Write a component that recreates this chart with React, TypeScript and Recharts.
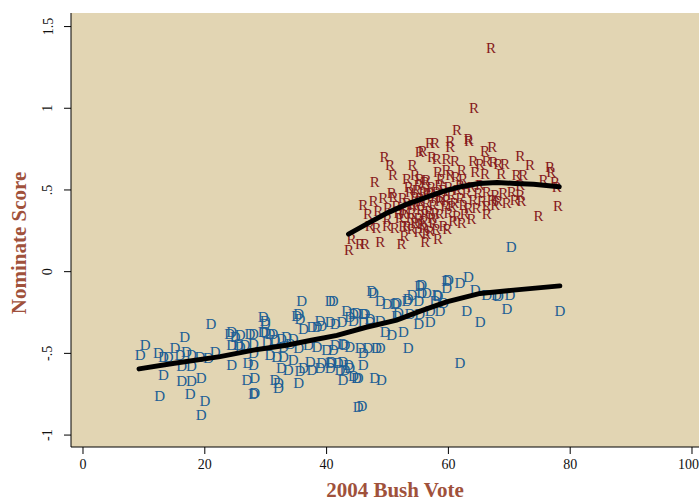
import React from "react";
import { ScatterChart, Scatter, XAxis, YAxis, CartesianGrid } from "recharts";

// ---------- Data ----------

const X_TICKS = [0, 20, 40, 60, 80, 100];
const Y_TICKS = [-1, -0.5, 0, 0.5, 1, 1.5];

// Republicans: [bush vote, nominate score]
const R_POINTS: [number, number][] = [
    [67.0, 1.37], [64.2, 1.0], [61.4, 0.87], [63.3, 0.81],
    [49.5, 0.7], [50.4, 0.65], [50.9, 0.59], [54.1, 0.65], [55.3, 0.73], [55.8, 0.74],
    [57.0, 0.79], [57.8, 0.79], [60.3, 0.8], [60.3, 0.76], [57.3, 0.7], [58.1, 0.69],
    [59.7, 0.69], [61.1, 0.68], [47.9, 0.55], [53.2, 0.57], [54.5, 0.59], [55.3, 0.57],
    [56.4, 0.56], [58.3, 0.61], [59.7, 0.62], [60.3, 0.59], [46.0, 0.41], [47.7, 0.43],
    [49.3, 0.45], [50.7, 0.48], [51.0, 0.46], [46.8, 0.35], [48.5, 0.37], [50.1, 0.39],
    [47.1, 0.28], [48.2, 0.27], [49.9, 0.28], [51.2, 0.27], [52.6, 0.28], [44.1, 0.2],
    [45.5, 0.17], [46.3, 0.17], [48.8, 0.18], [52.3, 0.17], [56.2, 0.18], [56.4, 0.23],
    [58.3, 0.2], [43.7, 0.13],
    [53.7, 0.49], [54.8, 0.5], [55.9, 0.49], [57.0, 0.48], [58.1, 0.49], [59.2, 0.5],
    [53.2, 0.42], [54.2, 0.41], [55.3, 0.43], [56.4, 0.42], [57.5, 0.41], [58.6, 0.43],
    [59.7, 0.44], [52.6, 0.35], [54.0, 0.36], [55.1, 0.33], [56.2, 0.35], [57.3, 0.33],
    [58.6, 0.35], [60.0, 0.36], [53.2, 0.28], [54.5, 0.3], [55.9, 0.27], [57.5, 0.3],
    [59.2, 0.28], [55.1, 0.24], [57.0, 0.25], [55.3, 0.45], [56.2, 0.55], [55.1, 0.53],
    [63.4, 0.8], [66.0, 0.74], [67.2, 0.76], [71.8, 0.71], [73.4, 0.65], [76.7, 0.64],
    [76.9, 0.61], [64.1, 0.68], [65.2, 0.66], [66.3, 0.68], [67.4, 0.67], [68.2, 0.66],
    [69.3, 0.66], [64.4, 0.61], [66.0, 0.6], [68.7, 0.6], [71.2, 0.59], [72.3, 0.59],
    [71.8, 0.53], [75.6, 0.56], [77.5, 0.55], [77.8, 0.52], [62.2, 0.62], [62.4, 0.57],
    [61.9, 0.53], [63.8, 0.52], [65.2, 0.53], [64.9, 0.48], [66.3, 0.49], [67.7, 0.47],
    [69.0, 0.48], [70.4, 0.49], [71.8, 0.47], [64.1, 0.44], [65.5, 0.43], [67.1, 0.44],
    [68.2, 0.43], [69.6, 0.42], [70.9, 0.44], [72.0, 0.43], [63.3, 0.39], [64.6, 0.39],
    [66.3, 0.4], [67.7, 0.41], [62.7, 0.35], [63.8, 0.32], [66.3, 0.35], [74.8, 0.34],
    [78.0, 0.4], [62.2, 0.3], [61.4, 0.34],
    [51.5, 0.4], [52.0, 0.33], [52.5, 0.45], [53.5, 0.52], [54.5, 0.46], [55.5, 0.38],
    [56.0, 0.31], [56.8, 0.37], [57.8, 0.45], [58.5, 0.53], [59.5, 0.4], [60.5, 0.47],
    [61.0, 0.42], [61.5, 0.5], [60.8, 0.31], [59.8, 0.26], [58.0, 0.26], [54.0, 0.26],
    [52.8, 0.22], [50.0, 0.32], [51.8, 0.36], [53.0, 0.38], [54.8, 0.4], [56.5, 0.48],
    [57.2, 0.52], [58.8, 0.57], [60.0, 0.52], [62.0, 0.45], [63.0, 0.48], [61.2, 0.58],
    [53.8, 0.33], [55.6, 0.29], [57.9, 0.36], [59.0, 0.46], [60.6, 0.4], [62.5, 0.41],
];

// Democrats
const D_POINTS: [number, number][] = [
    [21.0, -0.32], [16.7, -0.4], [10.2, -0.45], [9.4, -0.51], [12.4, -0.5], [13.2, -0.52],
    [14.0, -0.52], [15.1, -0.47], [15.9, -0.51], [17.0, -0.49], [17.8, -0.51], [19.2, -0.52],
    [20.6, -0.53], [21.7, -0.49], [16.2, -0.58], [17.8, -0.58], [13.2, -0.63], [16.2, -0.67],
    [17.8, -0.67], [19.4, -0.65], [12.6, -0.76], [17.6, -0.75], [20.0, -0.79], [19.4, -0.88],
    [24.1, -0.38], [25.0, -0.4], [25.8, -0.39], [27.4, -0.38], [24.4, -0.45], [25.5, -0.45],
    [26.6, -0.45], [24.4, -0.57], [27.1, -0.56], [26.9, -0.66], [28.0, -0.75],
    [24.4, -0.37], [25.8, -0.46], [29.9, -0.3], [29.9, -0.37], [31.2, -0.38], [31.8, -0.52],
    [35.1, -0.27], [38.9, -0.3], [43.3, -0.24], [44.4, -0.26], [45.2, -0.83], [42.7, -0.66],
    [44.4, -0.64],
    [35.9, -0.18], [41.1, -0.18], [47.4, -0.12], [29.6, -0.28], [29.9, -0.32], [35.4, -0.26],
    [35.6, -0.29], [28.0, -0.38], [29.6, -0.37], [30.7, -0.38], [32.6, -0.41], [33.4, -0.4],
    [34.5, -0.41], [36.2, -0.35], [37.6, -0.34], [38.4, -0.34], [39.2, -0.33], [40.6, -0.31],
    [41.4, -0.32], [42.5, -0.31], [43.8, -0.28], [44.9, -0.25], [46.3, -0.26], [47.1, -0.29],
    [28.0, -0.44], [30.2, -0.43], [31.5, -0.42], [32.9, -0.46], [34.0, -0.44], [35.4, -0.47],
    [37.0, -0.45], [38.4, -0.46], [40.0, -0.48], [41.4, -0.45], [42.7, -0.44], [43.8, -0.46],
    [45.5, -0.47], [46.8, -0.47], [48.2, -0.47], [28.0, -0.5], [30.7, -0.51], [32.9, -0.52],
    [34.5, -0.54], [37.3, -0.55], [39.2, -0.56], [40.8, -0.55], [41.9, -0.56], [43.6, -0.57],
    [46.0, -0.57], [28.0, -0.57], [32.6, -0.59], [33.7, -0.6], [35.6, -0.61], [36.2, -0.59],
    [37.6, -0.6], [38.9, -0.59], [40.6, -0.59], [42.2, -0.6], [43.8, -0.59], [28.2, -0.65],
    [31.5, -0.66], [32.1, -0.68], [35.4, -0.68], [44.9, -0.65], [47.9, -0.65], [28.2, -0.74],
    [32.1, -0.71], [45.8, -0.82],
    [47.7, -0.13], [48.8, -0.18], [49.9, -0.2], [51.5, -0.19], [53.2, -0.18], [54.0, -0.14],
    [55.3, -0.09], [55.6, -0.13], [56.4, -0.13], [58.1, -0.14], [59.7, -0.06], [59.7, -0.1],
    [61.9, -0.07], [63.3, -0.03], [40.6, -0.18], [46.0, -0.26], [44.4, -0.3], [46.0, -0.31],
    [47.1, -0.31], [48.8, -0.3], [51.5, -0.27], [53.7, -0.26], [55.3, -0.26], [57.0, -0.24],
    [58.6, -0.24], [59.2, -0.19], [55.1, -0.32], [57.0, -0.31], [49.6, -0.37], [50.7, -0.39],
    [52.6, -0.37], [48.8, -0.47], [53.4, -0.47], [41.1, -0.48], [43.0, -0.45], [46.0, -0.5],
    [40.6, -0.56], [42.7, -0.55], [43.0, -0.6], [45.2, -0.65], [49.0, -0.66], [61.9, -0.56],
    [65.2, -0.31], [63.0, -0.24], [69.6, -0.23], [78.3, -0.24], [66.3, -0.14], [67.9, -0.14],
    [70.1, -0.14], [70.3, 0.15],
    [60.0, -0.05], [55.6, -0.08], [64.4, -0.11], [68.2, -0.15], [53.4, -0.17], [58.3, -0.15],
    [57.8, -0.18], [51.2, -0.2], [51.8, -0.25], [55.1, -0.18],
];

// Lowess fits
const R_FIT: [number, number][] = [
    [43.6, 0.23], [47, 0.3], [50, 0.36], [53, 0.41], [56, 0.45], [59, 0.49],
    [62, 0.52], [65, 0.54], [68, 0.545], [71, 0.54], [74, 0.535], [78.2, 0.52],
];
const D_FIT: [number, number][] = [
    [9.2, -0.595], [15, -0.56], [22.5, -0.52], [28, -0.48], [33.4, -0.45], [37.5, -0.42],
    [41.7, -0.39], [46.5, -0.34], [51.5, -0.297], [55.5, -0.24], [59.7, -0.185],
    [65.2, -0.133], [70.7, -0.113], [78.3, -0.087],
];

// ---------- Styling ----------

const BG = "#e2d5b3";
const R_COLOR = "#86191b";
const D_COLOR = "#1c5e95";
const TITLE_COLOR = "#a0513b";
const SERIF = "'Liberation Serif', 'Times New Roman', serif";

const toXY = (arr: [number, number][]) => arr.map(([x, y]) => ({ x, y }));

const fmtY = (v: number) => {
    if (v === 0) return "0";
    const s = String(Math.abs(v)).replace(/^0/, "");
    return (v < 0 ? "-" : "") + s;
};

const letter = (ch: string, color: string) => (props: any) => (
    <text
        x={props.cx}
        y={props.cy}
        textAnchor="middle"
        dominantBaseline="central"
        fontFamily={SERIF}
        fontSize={15}
        fill={color}
    >
        {ch}
    </text>
);

const YTick = ({ x, y, payload }: any) => {
    const cx = x - 14;
    return (
        <text
            x={cx}
            y={y}
            transform={`rotate(-90, ${cx}, ${y})`}
            textAnchor="middle"
            dominantBaseline="central"
            fontFamily={SERIF}
            fontSize={14}
            fill="#111"
        >
            {fmtY(payload.value)}
        </text>
    );
};

export default function App() {
    return (
        <div style={{ position: "absolute", left: 0, top: 0, width: 699, height: 502 }}>
            <ScatterChart width={699} height={502} margin={{ top: 13, right: 0, bottom: 0, left: 0 }}>
                <CartesianGrid horizontal={false} vertical={false} fill={BG} fillOpacity={1} stroke="none" />
                <XAxis
                    type="number"
                    dataKey="x"
                    domain={[-1.97, 101.15]}
                    ticks={X_TICKS}
                    allowDataOverflow
                    height={55}
                    tickSize={7}
                    tickMargin={5}
                    stroke="#000"
                    tick={{ fontSize: 14, fontFamily: SERIF, fill: "#111" }}
                    label={{
                        content: () => (
                            <text
                                x={395}
                                y={490}
                                textAnchor="middle"
                                dominantBaseline="central"
                                fontFamily={SERIF}
                                fontWeight="bold"
                                fontSize={21}
                                fill={TITLE_COLOR}
                            >
                                2004 Bush Vote
                            </text>
                        ),
                    }}
                />
                <YAxis
                    type="number"
                    dataKey="y"
                    domain={[-1.073, 1.583]}
                    ticks={Y_TICKS}
                    allowDataOverflow
                    width={71}
                    tickSize={7}
                    tickMargin={2}
                    stroke="#000"
                    tick={<YTick />}
                    label={{
                        content: () => (
                            <text
                                x={19}
                                y={243}
                                transform="rotate(-90, 19, 243)"
                                textAnchor="middle"
                                dominantBaseline="central"
                                fontFamily={SERIF}
                                fontWeight="bold"
                                fontSize={21}
                                fill={TITLE_COLOR}
                            >
                                Nominate Score
                            </text>
                        ),
                    }}
                />
                <Scatter data={toXY(D_POINTS)} shape={letter("D", D_COLOR)} isAnimationActive={false} />
                <Scatter data={toXY(R_POINTS)} shape={letter("R", R_COLOR)} isAnimationActive={false} />
                <Scatter
                    data={toXY(D_FIT)}
                    line={{ stroke: "#000", strokeWidth: 5, strokeLinecap: "round" }}
                    lineType="joint"
                    shape={() => <g />}
                    isAnimationActive={false}
                />
                <Scatter
                    data={toXY(R_FIT)}
                    line={{ stroke: "#000", strokeWidth: 5, strokeLinecap: "round" }}
                    lineType="joint"
                    shape={() => <g />}
                    isAnimationActive={false}
                />
            </ScatterChart>
        </div>
    );
}
